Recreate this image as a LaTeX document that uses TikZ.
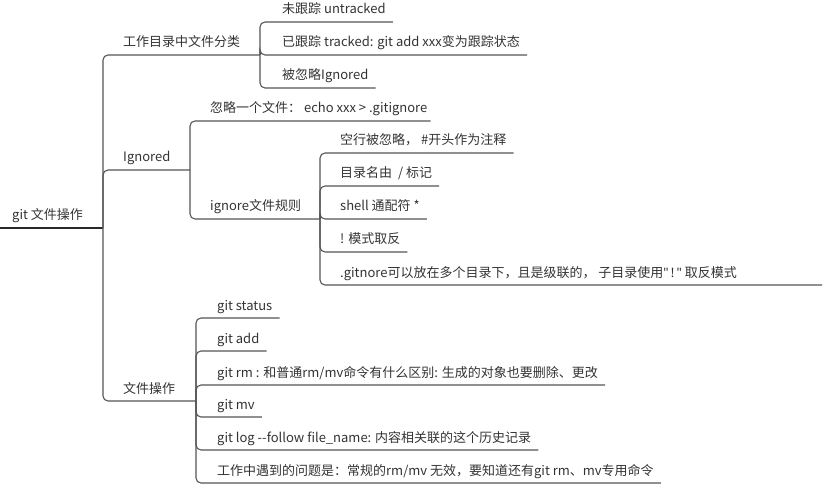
\documentclass[tikz,border=0pt]{standalone}
\usepackage{fontspec}
\setmainfont{Noto Sans CJK SC}
\newfontfamily\latinfont{Noto Sans}
\usetikzlibrary{calc}
\definecolor{txtc}{HTML}{333333}
\definecolor{linec}{HTML}{555555}
\tikzset{
  txt/.style={anchor=base west, inner sep=0pt, text=txtc, font=\fontsize{13}{15}\selectfont},
  conn/.style={draw=linec, line width=1.1pt, rounded corners=5pt},
  rootline/.style={draw=txtc!80!black, line width=2pt},
}
\begin{document}
\begin{tikzpicture}[x=1pt, y=-1pt]
\useasboundingbox (0,0) rectangle (825,489);
% root
\node[txt] (R) at (12,220) {git 文件操作};
\coordinate (R0) at (0,228);
\coordinate (Rj) at (103,228);
\draw[rootline] (R0) -- (Rj);
% level 1
\node[txt] (A) at (123,47) {工作目录中文件分类};
\coordinate (Aj) at (260,55);
\node[txt] (B) at (123,162) {Ignored};
\coordinate (Bj) at (190,170);
\node[txt] (C) at (123,393) {文件操作};
\coordinate (Cj) at (196,401);
\draw[conn] (Rj) |- (Aj);
\draw[conn] (Rj) |- (Bj);
\draw[conn] (Rj) |- (Cj);
% children of A
\node[txt] (A1) at (282,14) {未跟踪 untracked};
\node[txt] (A2) at (282,47) {已跟踪 tracked: git add xxx变为跟踪状态};
\node[txt] (A3) at (282,80) {被忽略Ignored};
\foreach \n in {A1,A2,A3}{
  \draw[conn] (Aj) |- ($(\n.base east)+(7,8)$);
}
% children of B
\node[txt] (B1) at (210,113) {忽略一个文件： echo xxx > .gitignore};
\node[txt] (B2) at (210,211) {ignore文件规则};
\coordinate (B2j) at (320,219);
\draw[conn] (Bj) |- ($(B1.base east)+(3,8)$);
\draw[conn] (Bj) |- (B2j);
% children of B2
\node[txt] (D1) at (340,145) {空行被忽略， \#开头作为注释};
\node[txt] (D2) at (340,178) {目录名由\ \ / 标记};
\node[txt] (D3) at (340,211) {shell 通配符 *};
\node[txt] (D4) at (340,244) {! 模式取反};
\node[txt] (D5) at (340,277) {.gitnore可以放在多个目录下，且是级联的， 子目录使用{\latinfont"\,!\,"} 取反模式};
\foreach \n in {D1,D2,D3,D4}{
  \draw[conn] (B2j) |- ($(\n.base east)+(7,8)$);
}
\coordinate (D5e) at (822,285);
\draw[conn] (B2j) |- (D5e);
% children of C
\node[txt] (C1) at (217,310) {git status};
\node[txt] (C2) at (217,343) {git add};
\node[txt] (C3) at (217,377) {git rm : 和普通rm/mv命令有什么区别: 生成的对象也要删除、更改};
\node[txt] (C4) at (217,409) {git mv};
\node[txt] (C5) at (217,442) {git log -{}-follow file\_name: 内容相关联的这个历史记录};
\node[txt] (C6) at (217,475) {工作中遇到的问题是：常规的rm/mv 无效，要知道还有git rm、mv专用命令};
\foreach \n in {C1,C2,C3,C4,C5,C6}{
  \draw[conn] (Cj) |- ($(\n.base east)+(7,8)$);
}
\end{tikzpicture}
\end{document}
